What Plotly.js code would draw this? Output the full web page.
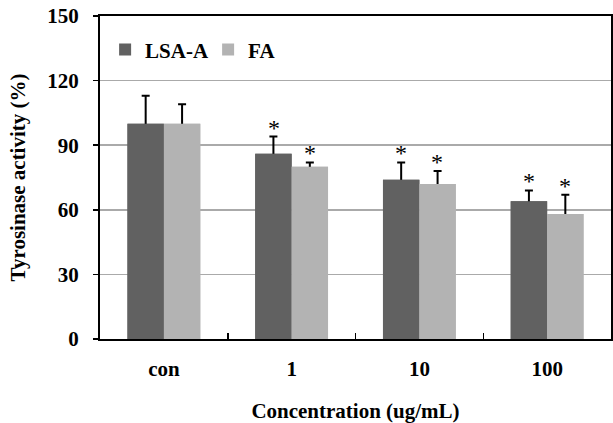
<!DOCTYPE html>
<html>
<head>
<meta charset="utf-8">
<script src="https://cdn.plot.ly/plotly-3.0.1.min.js"></script>
<style>html,body{margin:0;padding:0;background:#fff;}#chart{width:613px;height:423px;}</style>
</head>
<body>
<div id="chart"></div>
<script>
var categories = ["con", "1", "10", "100"];
var seriesNames = ["LSA-A", "FA"];
var lsaValues = [100, 86, 74, 64];
var lsaErrors = [13, 8, 8, 5];
var faValues = [100, 80, 72, 58];
var faErrors = [9, 2, 6, 9];
var lsaStars = ["", "*", "*", "*"];
var faStars = ["", "*", "*", "*"];
var yTicks = [0, 30, 60, 90, 120, 150];

var serif = "Liberation Serif, Times New Roman, serif";
var darkGrey = "#616161", lightGrey = "#b3b3b3";

function errBar(arr) {
  return {type: "data", array: arr, symmetric: true, color: "#000", thickness: 2, width: 4};
}

var traces = [
  // bars carrying the error bars (lower half hidden by the overlay bars below)
  {type: "bar", name: seriesNames[0], x: categories, y: lsaValues, offsetgroup: "a",
   marker: {color: darkGrey}, error_y: errBar(lsaErrors)},
  {type: "bar", name: seriesNames[1], x: categories, y: faValues, offsetgroup: "b",
   marker: {color: lightGrey}, error_y: errBar(faErrors)},
  // overlay bars so only the upward half of each error bar shows
  {type: "bar", name: seriesNames[0], x: categories, y: lsaValues, offsetgroup: "a",
   marker: {color: darkGrey}, showlegend: false},
  {type: "bar", name: seriesNames[1], x: categories, y: faValues, offsetgroup: "b",
   marker: {color: lightGrey}, showlegend: false}
];

var annotations = [];
categories.forEach(function(c, i){
  if (lsaStars[i]) annotations.push({x: i, y: lsaValues[i] + lsaErrors[i], xref: "x", yref: "y",
    text: lsaStars[i], showarrow: false, xshift: -18, yanchor: "bottom", yshift: -6,
    font: {family: serif, size: 24, color: "#000000"}});
  if (faStars[i]) annotations.push({x: i, y: faValues[i] + faErrors[i], xref: "x", yref: "y",
    text: faStars[i], showarrow: false, xshift: 18, yanchor: "bottom", yshift: -6,
    font: {family: serif, size: 24, color: "#000000"}});
});

var layout = {
  width: 613, height: 423,
  margin: {l: 100, r: 2, t: 16, b: 84},
  paper_bgcolor: "#fff", plot_bgcolor: "#fff",
  barmode: "group", bargap: 0.43, bargroupgap: 0,
  showlegend: true,
  legend: {orientation: "h", x: 0.01, y: 0.895, xanchor: "left", yanchor: "middle",
           font: {family: serif, size: 21, color: "#000", weight: "bold"},
           entrywidth: 58, itemwidth: 30, tracegroupgap: 0, bgcolor: "rgba(0,0,0,0)"},
  font: {family: serif, color: "#000"},
  xaxis: {type: "category", range: [-0.5, 3.5], showline: true, linecolor: "#000", linewidth: 2, mirror: true,
          ticks: "inside", tickson: "boundaries", ticklen: 6, tickwidth: 1.5, tickcolor: "#000",
          ticklabelstandoff: 10,
          showgrid: false, tickfont: {family: serif, size: 21, color: "#000", weight: "bold"},
          title: {text: "Concentration (ug/mL)", font: {family: serif, size: 21, color: "#000", weight: "bold"}, standoff: 27}},
  yaxis: {range: [0, 150], tickvals: yTicks, ticktext: yTicks.map(String),
          showline: true, linecolor: "#000", linewidth: 2, mirror: true,
          ticks: "outside", ticklen: 5, tickwidth: 1.5, tickcolor: "#000",
          ticklabelstandoff: 10,
          showgrid: true, gridcolor: "#aaaaaa", gridwidth: 1.5, zeroline: false,
          tickfont: {family: serif, size: 21, color: "#000", weight: "bold"},
          title: {text: "Tyrosinase activity (%)", font: {family: serif, size: 21, color: "#000", weight: "bold"}, standoff: 16}},
  annotations: annotations
};

Plotly.newPlot("chart", traces, layout, {displayModeBar: false, staticPlot: true});
</script>
</body>
</html>
